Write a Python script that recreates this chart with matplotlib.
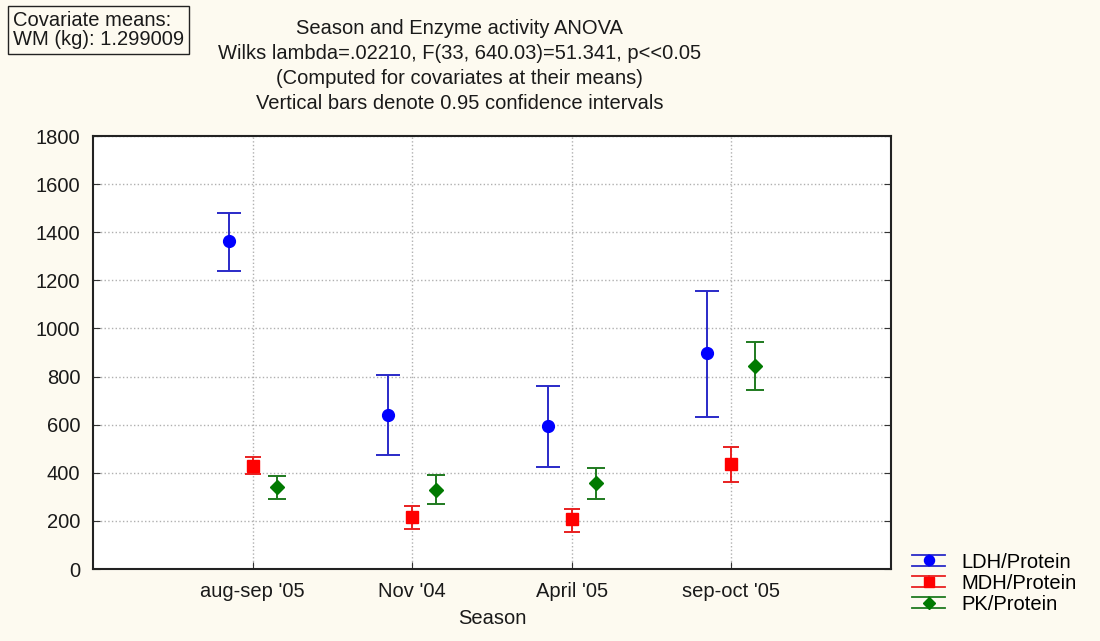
import numpy as np
import matplotlib.pyplot as plt
from matplotlib.legend_handler import HandlerBase
from matplotlib.lines import Line2D
from matplotlib.container import ErrorbarContainer

plt.rcParams['font.family'] = ['Liberation Sans', 'DejaVu Sans']

seasons = ["aug-sep '05", "Nov '04", "April '05", "sep-oct '05"]

# medias y limites del intervalo de confianza
ldh_mean = [1362, 642, 596, 900]
ldh_low = [1237, 475, 425, 633]
ldh_high = [1479, 808, 762, 1154]

mdh_mean = [429, 217, 208, 438]
mdh_low = [396, 167, 154, 362]
mdh_high = [467, 262, 250, 508]

pk_mean = [342, 329, 358, 846]
pk_low = [292, 271, 292, 746]
pk_high = [388, 392, 421, 942]

bg = '#fdfaf0'
fs = 14.5


class HandlerCI(HandlerBase):
    # simbolo de leyenda: dos lineas horizontales anchas, barra vertical y marcador
    def create_artists(self, legend, orig_handle, xdescent, ydescent,
                       width, height, fontsize, trans):
        line = orig_handle[0]
        ecolor = orig_handle[2][0].get_color()[0]
        x0, x1 = -xdescent, width - xdescent
        xc = (x0 + x1) / 2
        yc = height / 2 - ydescent
        half = height * 0.42
        top = Line2D([x0, x1], [yc + half] * 2, color=ecolor, lw=1.3, transform=trans)
        bot = Line2D([x0, x1], [yc - half] * 2, color=ecolor, lw=1.3, transform=trans)
        vert = Line2D([xc, xc], [yc - half, yc + half], color=ecolor, lw=1.3, transform=trans)
        mk = Line2D([xc], [yc], marker=line.get_marker(), color=line.get_color(),
                    markersize=line.get_markersize() * 0.85, linestyle='none', transform=trans)
        return [top, bot, vert, mk]


fig = plt.figure(figsize=(11, 6.41), dpi=100, facecolor=bg)
ax = fig.add_axes([0.0845, 0.1123, 0.7255, 0.6755])
ax.set_facecolor('white')

x = np.arange(1, len(seasons) + 1)

series = [
    ('LDH/Protein', ldh_mean, ldh_low, ldh_high, -0.15, 'o', '#0000ff', '#2a2ac8', 8.5, 8.3),
    ('MDH/Protein', mdh_mean, mdh_low, mdh_high, 0.0, 's', '#ff0000', '#e82020', 8.5, 6.0),
    ('PK/Protein', pk_mean, pk_low, pk_high, 0.15, 'D', '#007a00', '#1f7a1f', 7.0, 6.3),
]

handles = []
for name, m, lo, hi, dx, mk, fc, ec, ms, cs in series:
    m = np.array(m)
    yerr = [m - np.array(lo), np.array(hi) - m]
    h = ax.errorbar(x + dx, m, yerr=yerr, fmt=mk, color=fc, ecolor=ec,
                    markersize=ms, capsize=cs, elinewidth=1.4, capthick=1.4,
                    label=name, zorder=3)
    handles.append(h)

ax.set_xlim(0, 5)
ax.set_ylim(0, 1800)
ax.set_xticks(x)
ax.set_xticklabels(seasons)
ax.set_yticks(np.arange(0, 1801, 200))
ax.tick_params(axis='both', direction='in', labelsize=fs, length=5, color='#333333',
               labelcolor='#1a1a1a')
ax.tick_params(axis='y', right=True, pad=9)
ax.tick_params(axis='x', pad=9)
ax.grid(True, linestyle=':', color='#b0b0b0', linewidth=1)
for s in ax.spines.values():
    s.set_color('#222222')
    s.set_linewidth(1.5)

ax.set_xlabel('Season', fontsize=fs, labelpad=6, color='#1a1a1a')

title_lines = ['Season and Enzyme activity ANOVA',
               'Wilks lambda=.02210, F(33, 640.03)=51.341, p<<0.05',
               '(Computed for covariates at their means)',
               'Vertical bars denote 0.95 confidence intervals']
for yy, t in zip([0.956, 0.917, 0.877, 0.838], title_lines):
    fig.text(0.418, yy, t, ha='center', va='center', fontsize=fs, color='#1a1a1a')

fig.text(0.012, 0.953, 'Covariate means:\nWM (kg): 1.299009', ha='left', va='center',
         fontsize=fs, linespacing=1.0, color='#1a1a1a',
         bbox=dict(boxstyle='square,pad=0.25', facecolor=bg, edgecolor='#222222', linewidth=1),
         zorder=5)

fig.legend(handles=handles, loc='upper left', bbox_to_anchor=(0.829, 0.138),
           frameon=False, fontsize=fs, handlelength=1.65, labelspacing=0.1,
           handletextpad=0.8, borderpad=0, borderaxespad=0,
           handler_map={ErrorbarContainer: HandlerCI()})

plt.savefig('out.png', dpi=100, facecolor=bg)
